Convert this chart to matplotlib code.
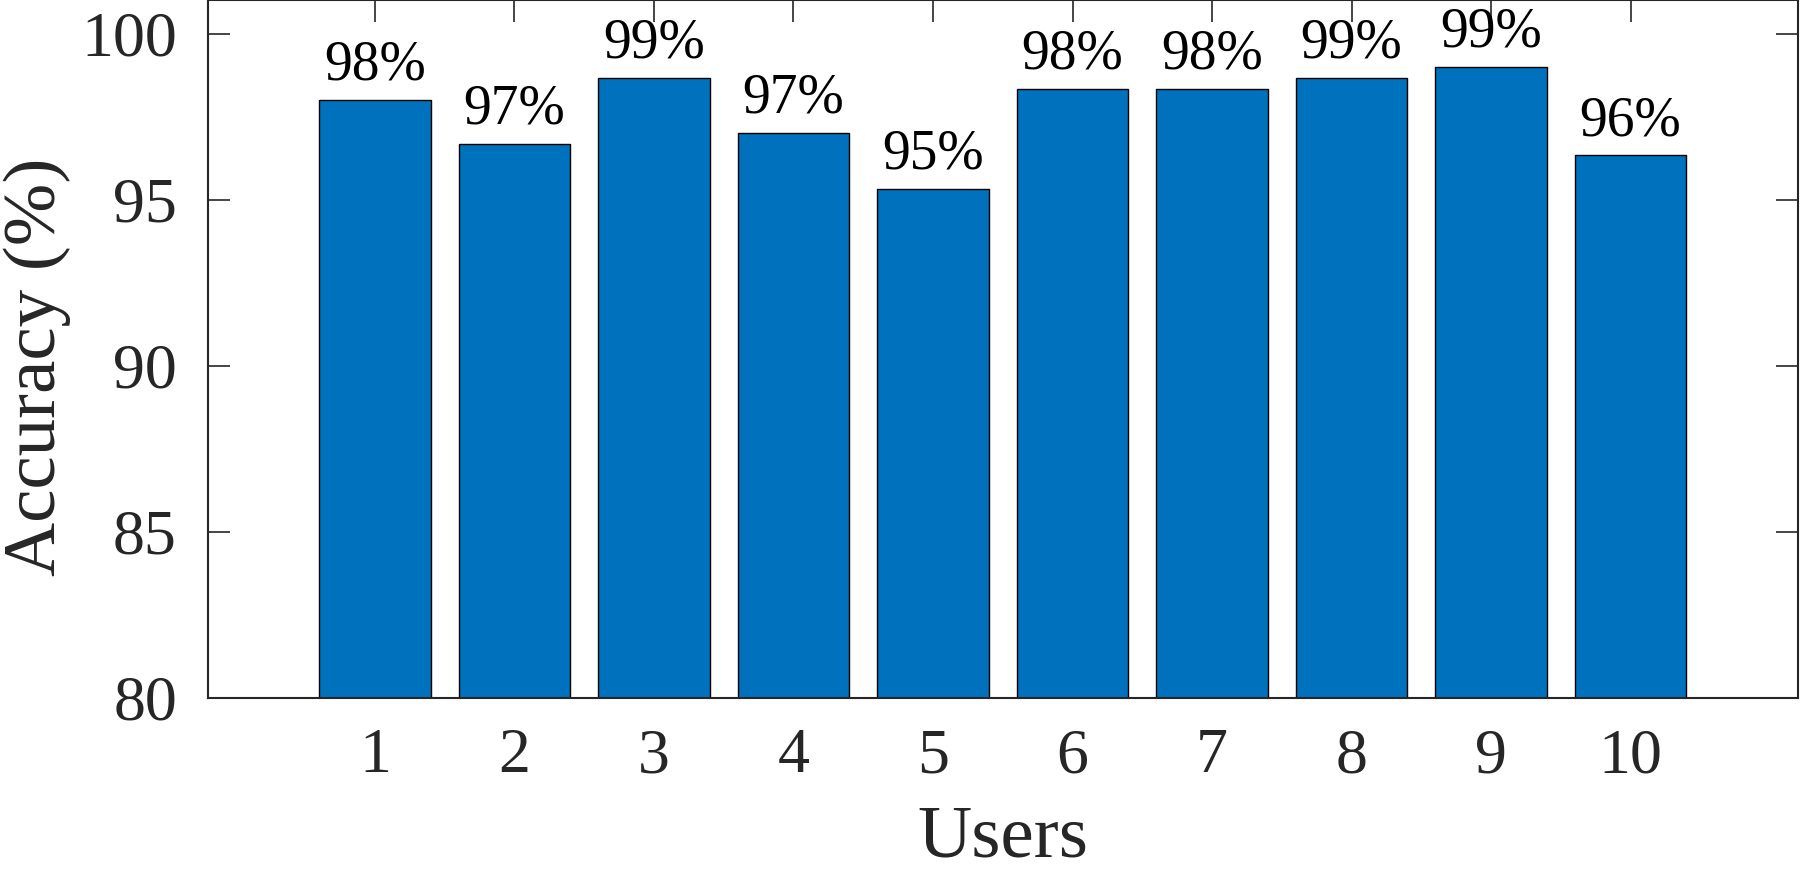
import matplotlib
matplotlib.use("Agg")
import matplotlib.pyplot as plt

users = [1, 2, 3, 4, 5, 6, 7, 8, 9, 10]
accuracy = [98.0, 96.67, 98.67, 97.0, 95.33, 98.33, 98.33, 98.67, 99.0, 96.33]
labels = ["98%", "97%", "99%", "97%", "95%", "98%", "98%", "99%", "99%", "96%"]
yticks = [80, 85, 90, 95, 100]

plt.rcParams['font.family'] = ['Liberation Serif', 'DejaVu Serif']

fig = plt.figure(figsize=(18, 8.73), dpi=100)
ax = fig.add_axes([207.5/1800, 1 - 697.5/873, (1798-207.5)/1800, 697.5/873 - 0.0005])

gray = '#262626'
ax.bar(users, accuracy, width=0.8, color='#0072BD', edgecolor='black', linewidth=1.0, zorder=2)
for x, v, t in zip(users, accuracy, labels):
    ax.text(x, v + 0.25, t, ha='center', va='bottom', fontsize=40, color='black')

ax.set_xlim(-0.2, 11.2)
ax.set_ylim(80, 101)
ax.set_xticks(users)
ax.set_yticks(yticks)
ax.tick_params(direction='in', length=16, width=1.2, colors=gray, labelsize=46,
               top=True, right=True, labeltop=False, labelright=False)
ax.tick_params(axis='x', pad=22)
ax.tick_params(axis='y', pad=22)
for s in ax.spines.values():
    s.set_color(gray)
    s.set_linewidth(1.5)
ax.set_xlabel('Users', fontsize=54, color=gray, va='center')
ax.set_ylabel('Accuracy (%)', fontsize=54, color=gray, va='center')
ax.xaxis.set_label_coords(0.5, -0.203)
ax.yaxis.set_label_coords(-0.107, 0.475)

fig.savefig('out.png', dpi=100)
